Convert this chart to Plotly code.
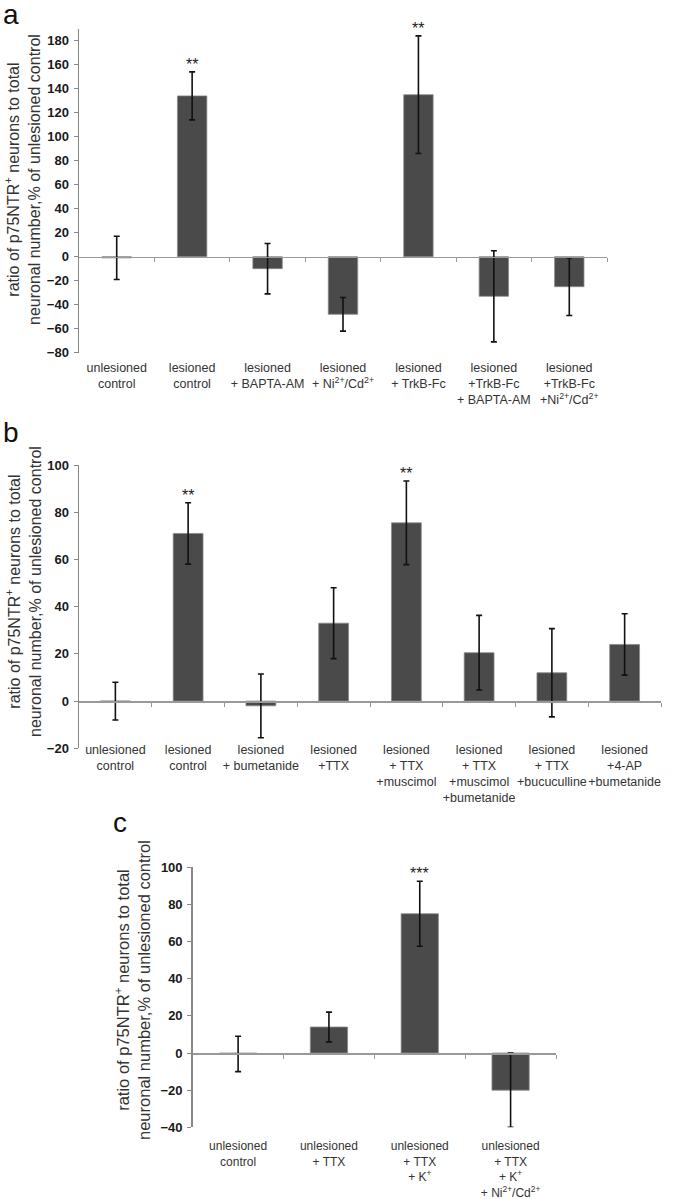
import plotly.graph_objects as go

W, H = 674, 1199

# ---------------- data ----------------
a_labels = ["unlesioned<br>control", "lesioned<br>control", "lesioned<br>+ BAPTA-AM",
            "lesioned<br>+ Ni<sup>2+</sup>/Cd<sup>2+</sup>", "lesioned<br>+ TrkB-Fc",
            "lesioned<br>+TrkB-Fc<br>+ BAPTA-AM",
            "lesioned<br>+TrkB-Fc<br>+Ni<sup>2+</sup>/Cd<sup>2+</sup>"]
a_values = [-1, 134, -10, -48, 135, -33, -25]
a_errors = [18, 20, 21, 14, 49, 38, 24]
a_stars = ["", "**", "", "", "**", "", ""]
a_yticks = [-80, -60, -40, -20, 0, 20, 40, 60, 80, 100, 120, 140, 160, 180]

b_labels = ["unlesioned<br>control", "lesioned<br>control", "lesioned<br>+ bumetanide",
            "lesioned<br>+TTX", "lesioned<br>+ TTX<br>+muscimol",
            "lesioned<br>+ TTX<br>+muscimol<br>+bumetanide",
            "lesioned<br>+ TTX<br>+bucuculline", "lesioned<br>+4-AP<br>+bumetanide"]
b_values = [0, 71, -2, 33, 75.5, 20.5, 12, 24]
b_errors = [8, 13, 13.5, 15, 17.7, 15.8, 18.7, 13]
b_stars = ["", "**", "", "", "**", "", "", ""]
b_yticks = [-20, 0, 20, 40, 60, 80, 100]

c_labels = ["unlesioned<br>control", "unlesioned<br>+ TTX",
            "unlesioned<br>+ TTX<br>+ K<sup>+</sup>",
            "unlesioned<br>+ TTX<br>+ K<sup>+</sup><br>+ Ni<sup>2+</sup>/Cd<sup>2+</sup>"]
c_values = [-0.5, 14, 75, -20]
c_errors = [9.5, 8, 17.5, 20]
c_stars = ["", "", "***", ""]
c_yticks = [-40, -20, 0, 20, 40, 60, 80, 100]

y_title = "ratio of p75NTR<sup>+</sup> neurons to total<br>neuronal number,% of unlesioned control"

FONT = "Liberation Sans, Arial, sans-serif"

fig = go.Figure()
layout = dict(
    width=W, height=H, margin=dict(l=0, r=0, t=0, b=0, pad=0), autosize=False,
    paper_bgcolor="white", plot_bgcolor="white", showlegend=False,
    font=dict(family=FONT, color="#222"),
)
annotations = []


def px_x(p):
    return p / W


def px_y(p):
    return 1 - p / H


def panel(k, labels, values, errors, stars, yticks, yrange, xpx, ypx, barw, label_px,
          label_size, title_xy, letter, letter_xy, title_size=16):
    n = len(labels)
    xa = "x" if k == 0 else f"x{2 * k + 1}"
    xz = f"x{2 * k + 2}"
    ya = "y" if k == 0 else f"y{k + 1}"
    xa_key = "xaxis" if k == 0 else f"xaxis{2 * k + 1}"
    xz_key = f"xaxis{2 * k + 2}"
    ya_key = "yaxis" if k == 0 else f"yaxis{k + 1}"

    fig.add_trace(go.Bar(
        x=list(range(n)), y=values, width=barw, xaxis=xa, yaxis=ya,
        marker=dict(color="#4a4a4a", line=dict(color="#8a8a8a", width=0.8)),
        error_y=dict(type="data", array=errors, visible=True, color="#111",
                     thickness=1.6, width=3),
        hoverinfo="skip",
    ))
    fig.add_trace(go.Scatter(x=[None], y=[None], xaxis=xz, yaxis=ya,
                             showlegend=False, hoverinfo="skip"))

    ydom = [px_y(ypx[1]), px_y(ypx[0])]
    xdom = [px_x(xpx[0]), px_x(xpx[1])]
    zero_pos = ydom[0] + (0 - yrange[0]) / (yrange[1] - yrange[0]) * (ydom[1] - ydom[0])

    layout[xa_key] = dict(
        domain=xdom, range=[-0.5, n - 0.5], anchor="free", position=px_y(label_px),
        tickmode="array", tickvals=list(range(n)), ticktext=labels, automargin=False,
        showline=False, ticks="", showgrid=False, zeroline=False, tickangle=0,
        tickfont=dict(family=FONT, size=label_size, color="#333"),
    )
    layout[xz_key] = dict(
        domain=xdom, range=[-0.5, n - 0.5], overlaying=xa, anchor="free",
        position=zero_pos, tickmode="array", automargin=False,
        tickvals=[i + 0.5 for i in range(n)], showticklabels=False,
        showline=True, linecolor="#999", linewidth=1.5,
        ticks="outside", ticklen=4, tickcolor="#999", tickwidth=1,
        showgrid=False, zeroline=False,
    )
    layout[ya_key] = dict(
        domain=ydom, range=yrange, anchor=xa, tickmode="array", tickvals=yticks,
        showline=True, linecolor="#888", linewidth=1.5, automargin=False,
        ticks="outside", ticklen=4, tickcolor="#888", ticklabelstandoff=2,
        showgrid=False, zeroline=False,
        tickfont=dict(family=FONT, size=13, color="#1a1a1a", weight="bold"),
    )

    for i, s in enumerate(stars):
        if s:
            annotations.append(dict(
                x=i, y=values[i] + errors[i], xref=xa, yref=ya, text=s,
                showarrow=False, yanchor="bottom", yshift=-3,
                font=dict(family=FONT, size=16, color="#222")))

    annotations.append(dict(
        x=px_x(title_xy[0]), y=px_y(title_xy[1]), xref="paper", yref="paper",
        text=y_title, textangle=-90, showarrow=False,
        xanchor="center", yanchor="middle",
        font=dict(family=FONT, size=title_size, color="#333")))

    annotations.append(dict(
        x=px_x(letter_xy[0]), y=px_y(letter_xy[1]), xref="paper", yref="paper",
        text=letter, showarrow=False, xanchor="left", yanchor="bottom",
        font=dict(family=FONT, size=28, color="#111")))


panel(0, a_labels, a_values, a_errors, a_stars, a_yticks, [-80, 190],
      (79, 607), (28.7, 352.7), 0.39, 358, 12.5, (22, 180), "a", (1, 32))
panel(1, b_labels, b_values, b_errors, b_stars, b_yticks, [-20, 100],
      (79, 661), (465, 748.3), 0.41, 740, 12.5, (23, 592), "b", (1, 450))
panel(2, c_labels, c_values, c_errors, c_stars, c_yticks, [-40, 100],
      (192.7, 556), (867.3, 1127.3), 0.41, 1137, 12, (132, 990), "c", (111, 840), 16.5)

layout["annotations"] = annotations
fig.update_layout(**layout)
fig.write_html("out.html", config={"displayModeBar": False, "staticPlot": True},
               post_script="document.body.style.margin='0';document.body.style.overflow='hidden';")
